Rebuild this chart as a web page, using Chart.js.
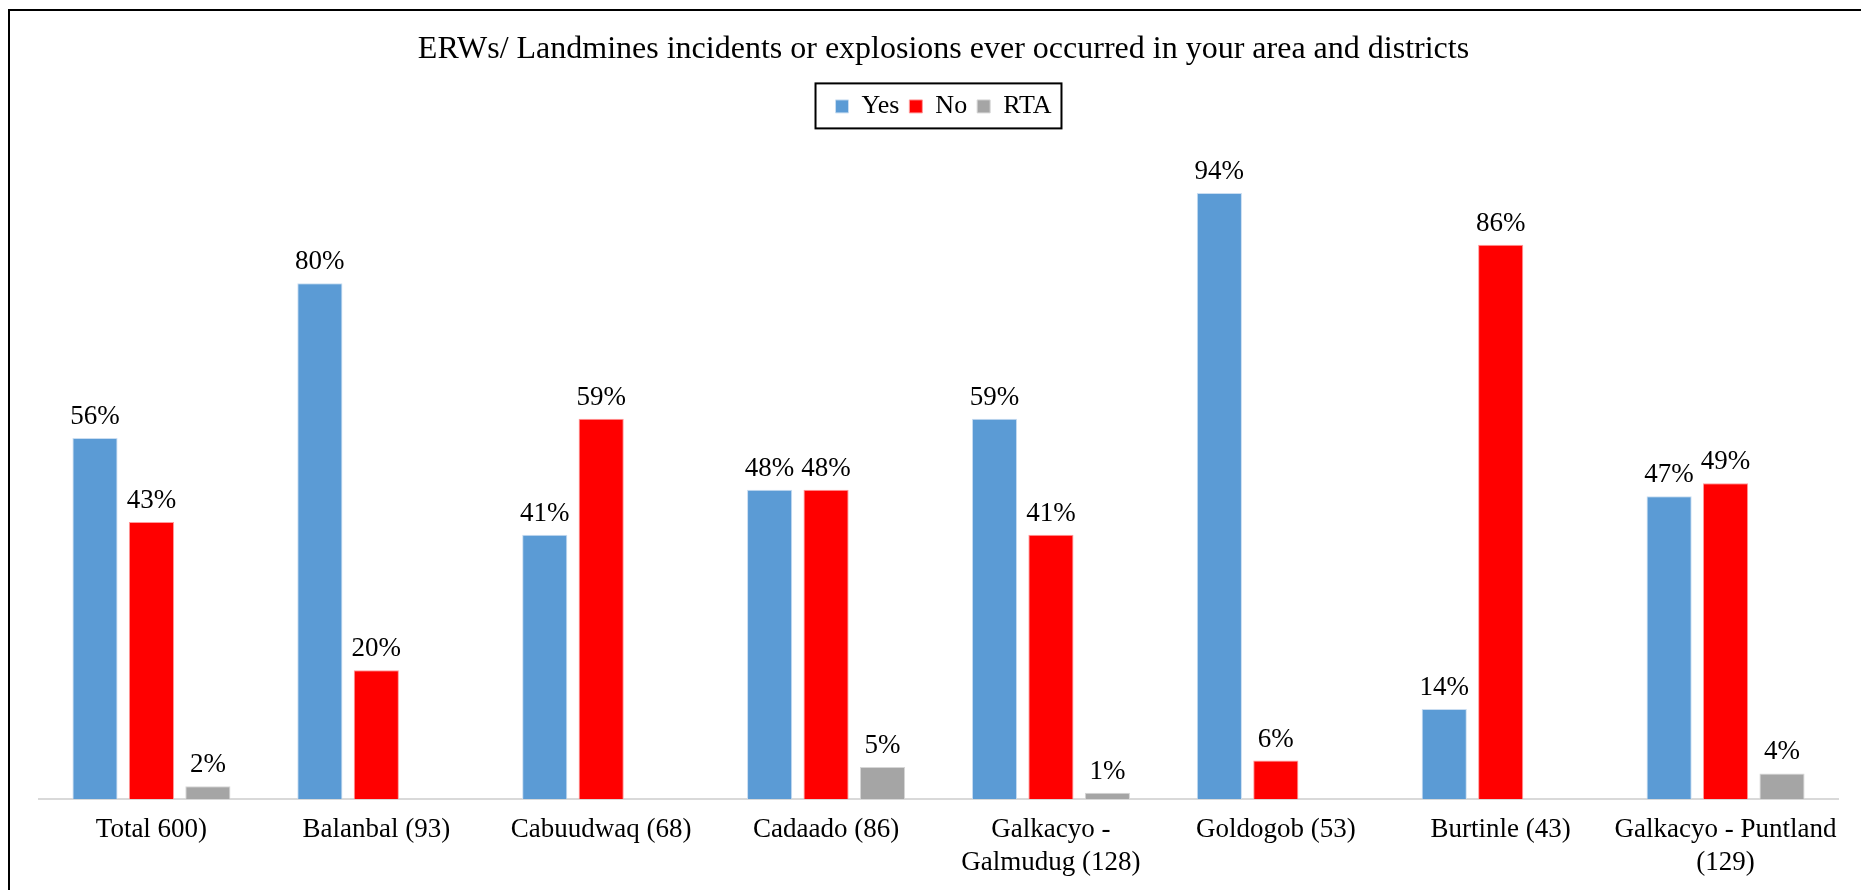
<!DOCTYPE html>
<html>
<head>
<meta charset="utf-8">
<script src="https://cdn.jsdelivr.net/npm/chart.js@4"></script>
<style>
  html, body { margin: 0; padding: 0; background: #fff; overflow: hidden; }
  #wrap { position: absolute; left: 0; top: 0; width: 1861px; height: 890px; overflow: hidden; }
  #frame { position: absolute; left: 8px; top: 9px; width: 1900px; height: 1000px; border: 2px solid #000; box-sizing: border-box; }
  canvas { position: absolute; left: 0; top: 4px; }
</style>
</head>
<body>
<div id="wrap">
  <div id="frame"></div>
  <canvas id="chart" width="1861" height="890"></canvas>
</div>
<script>
// chart data
const categories = [
  "Total 600)",
  "Balanbal (93)",
  "Cabuudwaq (68)",
  "Cadaado (86)",
  ["Galkacyo -", "Galmudug (128)"],
  "Goldogob (53)",
  "Burtinle (43)",
  ["Galkacyo - Puntland", "(129)"]
];
const yesValues = [56, 80, 41, 48, 59, 94, 14, 47];
const noValues  = [43, 20, 59, 48, 41, 6, 86, 49];
const rtaValues = [2, null, null, 5, 1, null, null, 4];

const FONT = "'Liberation Serif', 'Times New Roman', serif";

// prints the % on top of every bar
const barLabels = {
  id: 'barLabels',
  afterDatasetsDraw(chart) {
    const ctx = chart.ctx;
    ctx.save();
    ctx.font = "27px " + FONT;
    ctx.fillStyle = "#000";
    ctx.textAlign = "center";
    ctx.textBaseline = "alphabetic";
    chart.data.datasets.forEach((ds, i) => {
      chart.getDatasetMeta(i).data.forEach((bar, j) => {
        if (ds.data[j] == null) return;
        ctx.fillText(ds.data[j] + "%", bar.x, bar.y - 14);
      });
    });
    ctx.restore();
  }
};

// extra room under the legend so the plot starts lower
const legendSpace = {
  id: 'legendSpace',
  beforeInit(chart) {
    const orig = chart.legend.fit;
    chart.legend.fit = function () {
      orig.bind(chart.legend)();
      this.height += 25;
    };
  },
  // title + legend sit a bit right of the axis middle in the original
  afterLayout(chart) {
    chart.titleBlock.left += 5;
    chart.titleBlock.right += 5;
    chart.legend.left += 5;
    chart.legend.right += 5;
  }
};

// box round the legend like in excel
const legendBox = {
  id: 'legendBox',
  afterDraw(chart) {
    const boxes = chart.legend.legendHitBoxes;
    if (!boxes || !boxes.length) return;
    let minX = Math.min(...boxes.map(b => b.left));
    let maxX = Math.max(...boxes.map(b => b.left + b.width));
    let midY = boxes[0].top + boxes[0].height / 2;
    const ctx = chart.ctx;
    ctx.save();
    ctx.strokeStyle = "#000";
    ctx.lineWidth = 2;
    ctx.strokeRect(minX - 20, midY - 23, (maxX - minX) + 30, 45);
    ctx.restore();
  }
};

new Chart(document.getElementById("chart"), {
  type: 'bar',
  data: {
    labels: categories,
    datasets: [
      { label: 'Yes', data: yesValues, backgroundColor: "#5B9BD5", borderColor: "#C9DDF1", borderWidth: 1 },
      { label: 'No', data: noValues, backgroundColor: "#FF0000", borderColor: "#FF9A9A", borderWidth: 1 },
      { label: 'RTA', data: rtaValues, backgroundColor: "#A5A5A5", borderColor: "#D6D6D6", borderWidth: 1 }
    ]
  },
  options: {
    responsive: false,
    animation: false,
    devicePixelRatio: 1,
    layout: { padding: { left: 39, right: 23, top: 26, bottom: 0 } },
    categoryPercentage: 0.753,
    barPercentage: 0.8,
    plugins: {
      title: {
        display: true,
        text: "ERWs/ Landmines incidents or explosions ever occurred in your area and districts",
        color: "#000",
        font: { family: FONT, size: 32, weight: 'normal' },
        padding: { top: 0, bottom: 15 }
      },
      legend: {
        display: true,
        position: 'top',
        labels: {
          color: "#000",
          font: { family: FONT, size: 26 },
          boxWidth: 13,
          boxHeight: 13,
          padding: 10
        }
      },
      tooltip: { enabled: false }
    },
    scales: {
      x: {
        grid: { display: false, drawTicks: false },
        border: { display: true, color: "#D9D9D9", width: 2 },
        ticks: {
          color: "#000",
          font: { family: FONT, size: 27 },
          padding: 15,
          maxRotation: 0,
          autoSkip: false
        }
      },
      y: {
        display: false,
        min: 0,
        max: 100
      }
    }
  },
  plugins: [barLabels, legendSpace, legendBox]
});
</script>
</body>
</html>
